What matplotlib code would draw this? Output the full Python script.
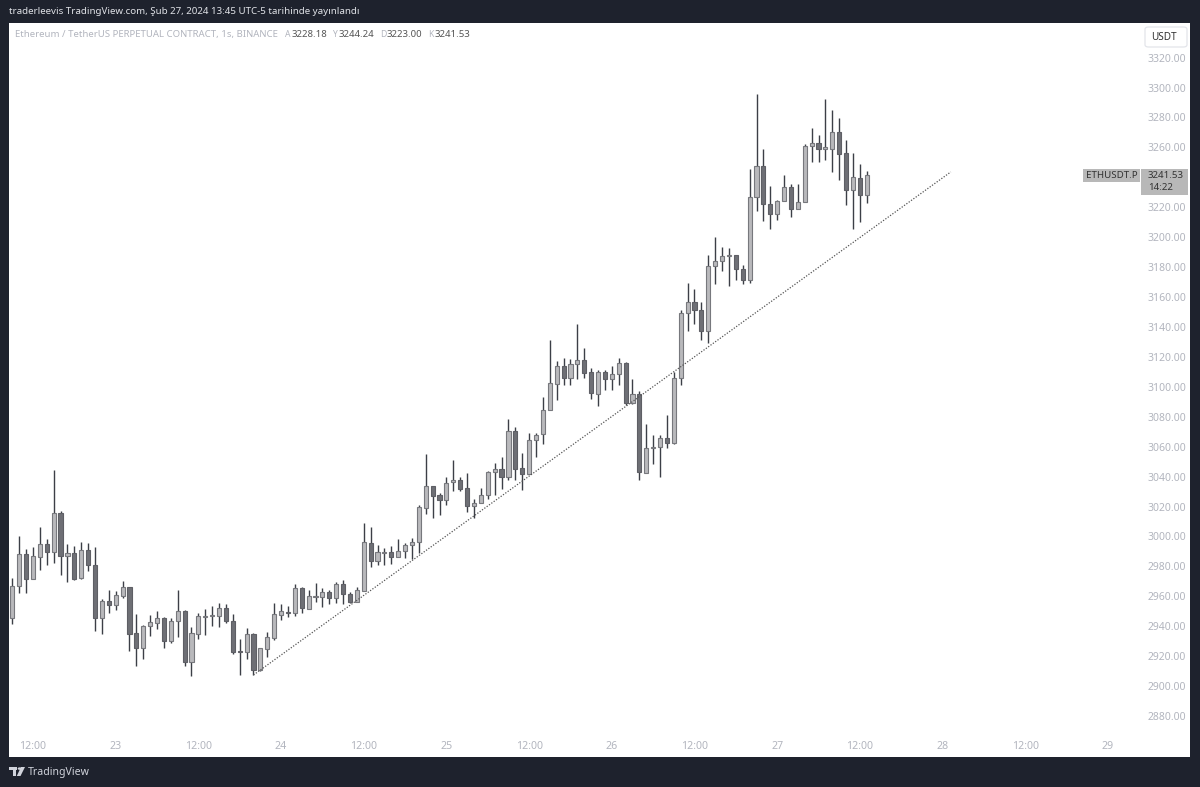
import matplotlib
matplotlib.use("Agg")
import matplotlib.pyplot as plt
from matplotlib.patches import Rectangle, FancyBboxPatch, Circle, Polygon

opens = [2945.8,2967.0,2988.3,2971.9,2986.6,2995.2,2989.9,3015.5,2987.2,2989.0,2972.3,2991.2,2981.0,2945.8,2956.7,2954.5,2960.3,2966.3,2935.3,2925.5,
2940.2,2942.5,2945.4,2930.0,2943.6,2950.0,2916.4,2935.1,2946.5,2946.7,2947.1,2952.3,2943.8,2923.5,2923.1,2934.9,2910.8,2924.9,2932.0,2947.8,
2949.8,2949.1,2965.4,2951.4,2959.8,2959.8,2962.9,2958.9,2968.1,2961.8,2956.3,2963.8,2995.7,2983.7,2989.2,2989.5,2986.6,2990.1,2994.3,2996.1,
3019.3,3033.5,3027.8,3024.4,3036.2,3037.6,3032.4,3020.4,3022.2,3027.8,3042.9,3045.3,3039.5,3070.2,3045.5,3042.0,3064.4,3068.2,3084.3,3102.1,
3113.7,3106.1,3115.2,3117.7,3109.7,3095.4,3109.7,3105.0,3108.5,3116.1,3089.2,3095.0,3042.6,3059.3,3059.5,3065.6,3062.4,3105.7,3149.2,3156.5,
3151.6,3137.3,3181.0,3184.3,3187.7,3187.9,3178.8,3171.6,3226.7,3247.8,3222.2,3215.7,3224.4,3233.6,3219.1,3223.3,3261.2,3262.7,3258.9,3259.2,
3270.1,3256.0,3231.8,3239.8,3228.18]
highs = [2972.1,3000.4,2991.5,2992.8,3006.2,2998.1,3044.5,3017.3,2994.8,2993.7,2996.4,2995.5,2992.8,2958.5,2964.3,2963.6,2970.1,2966.5,2948.5,2940.9,
2947.8,2950.0,2946.0,2945.6,2964.3,2950.9,2939.8,2948.9,2951.8,2953.4,2955.6,2955.2,2948.5,2931.3,2938.9,2935.3,2925.8,2936.0,2955.4,2954.7,
2953.6,2968.1,2966.5,2964.3,2968.7,2965.6,2964.1,2969.4,2970.7,2962.9,2966.5,3009.3,3006.6,2994.1,2992.3,2993.5,2998.1,2995.7,2998.8,3021.1,
3055.1,3033.5,3028.9,3039.8,3051.1,3040.0,3042.2,3024.9,3032.4,3043.8,3048.9,3053.4,3078.3,3073.4,3055.5,3068.9,3069.1,3093.4,3131.3,3117.2,
3119.0,3118.3,3141.9,3125.7,3112.6,3111.0,3111.0,3113.9,3119.5,3116.6,3105.2,3097.2,3074.9,3068.0,3067.6,3080.9,3109.9,3151.4,3169.2,3165.4,
3156.5,3187.9,3200.4,3193.5,3192.8,3188.1,3181.4,3245.6,3295.7,3258.9,3234.0,3225.1,3241.6,3235.3,3235.8,3262.5,3273.2,3268.1,3292.3,3285.0,
3279.4,3265.2,3256.0,3248.9,3244.24]
lows = [2941.3,2962.5,2962.1,2971.9,2977.6,2981.2,2982.5,2974.5,2969.4,2971.0,2971.9,2976.8,2937.1,2935.1,2949.1,2950.9,2958.7,2923.8,2913.5,2918.2,
2933.3,2938.5,2925.5,2928.7,2932.9,2913.5,2906.8,2931.5,2934.2,2940.5,2939.6,2942.5,2921.5,2907.3,2918.2,2907.3,2910.4,2919.7,2930.9,2944.0,
2946.2,2946.9,2949.1,2951.4,2956.3,2953.1,2955.2,2955.8,2954.7,2955.8,2956.3,2963.8,2979.9,2980.8,2980.8,2981.7,2986.6,2985.7,2985.2,2988.8,
3015.1,3012.4,3014.6,3020.9,3030.4,3030.6,3016.4,3012.4,3022.2,3025.3,3027.5,3031.5,3037.7,3037.7,3031.0,3042.0,3052.9,3061.8,3084.3,3091.4,
3101.4,3101.2,3105.4,3106.1,3091.8,3087.4,3098.1,3097.6,3101.0,3087.8,3088.7,3037.7,3042.2,3048.6,3039.5,3059.3,3061.6,3101.3,3137.6,3142.2,
3131.3,3129.3,3168.7,3177.4,3167.7,3171.6,3168.7,3169.4,3217.5,3210.6,3205.5,3211.7,3224.4,3213.5,3219.1,3223.3,3250.0,3250.3,3251.8,3243.4,
3238.5,3221.5,3205.5,3210.2,3223.00]
closes = [2967.0,2988.3,2971.9,2986.8,2995.2,2989.9,3015.5,2987.2,2989.0,2971.9,2991.2,2981.0,2945.8,2956.7,2954.5,2960.7,2966.3,2935.1,2925.5,2940.5,
2942.7,2945.4,2930.0,2943.8,2950.0,2916.4,2935.3,2946.7,2946.9,2947.4,2952.3,2943.4,2922.9,2923.1,2934.7,2910.8,2925.3,2932.7,2948.3,2950.0,
2949.1,2965.4,2952.0,2960.3,2960.3,2962.9,2958.9,2968.5,2961.6,2956.3,2964.1,2996.4,2983.7,2989.5,2989.7,2986.6,2990.1,2994.6,2996.4,3019.5,
3033.5,3027.3,3024.4,3035.8,3037.6,3032.0,3020.4,3022.2,3028.0,3043.1,3045.3,3039.6,3070.2,3045.3,3042.0,3064.7,3067.6,3084.5,3102.3,3113.7,
3106.1,3115.4,3117.7,3109.4,3095.6,3109.9,3105.2,3108.5,3115.9,3089.2,3095.0,3042.8,3058.9,3059.8,3065.8,3062.7,3105.6,3149.4,3156.5,3151.6,
3137.3,3181.0,3184.3,3187.7,3188.1,3178.8,3171.6,3226.7,3247.8,3222.2,3215.7,3224.4,3233.6,3219.1,3223.3,3261.2,3262.7,3258.9,3260.1,3270.1,
3255.8,3231.8,3240.2,3228.2,3241.53]

time_tick_hours = [3,15,27,39,51,63,75,87,99,111,123,135,147,159]
time_tick_labels = ["12:00","23","12:00","24","12:00","25","12:00","26","12:00","27","12:00","28","12:00","29"]
# 3240.00 is hidden behind the last-price label in the reference
price_ticks = [p for p in range(2880, 3321, 20) if p != 3240]
trend_hours = [35, 136.2]
trend_prices = [2907.5, 3243.6]

W, H = 1200, 787
FONT = "Noto Sans"
DARK = "#1e222d"
plt.rcParams["font.family"] = [FONT, "DejaVu Sans"]
fig = plt.figure(figsize=(12, 7.87), dpi=100, facecolor=DARK)

def box(x0, y0, x1, y1):
    return [x0 / W, 1 - y1 / H, (x1 - x0) / W, (y1 - y0) / H]

def t(x, y, s, size=7.5, color="#333333", ha="left", va="center", **kw):
    return fig.text(x / W, 1 - y / H, s, fontsize=size, color=color, ha=ha, va=va, **kw)

def frect(x0, y0, x1, y1, color, z=0):
    fig.add_artist(Rectangle((x0 / W, 1 - y1 / H), (x1 - x0) / W, (y1 - y0) / H,
                             transform=fig.transFigure, fc=color, ec="none", zorder=z))

# white pane
frect(9, 23, 1190, 757, "white", z=-5)

ax = fig.add_axes(box(9, 23, 1141, 733), facecolor="none")
for s in ax.spines.values():
    s.set_visible(False)
ax.set_xlim(-0.483, 163.8)
ax.set_ylim(2868.7, 3343.1)

idx = list(range(len(opens)))
ax.vlines(idx, lows, highs, color="#3c3f47", lw=1.0, zorder=2)
for i, o, c in zip(idx, opens, closes):
    up = c >= o
    ax.bar(i, max(abs(c - o), 0.4), bottom=min(o, c), width=0.6,
           facecolor="#b9b9bc" if up else "#6e6f75",
           edgecolor="#77787d" if up else "#5e5f65", linewidth=0.8, zorder=3)

ax.plot(trend_hours, trend_prices, color="#555555", lw=0.9, ls=(0, (1, 1.3)), zorder=4)

ax.set_xticks(time_tick_hours)
ax.set_xticklabels(time_tick_labels)
ax.yaxis.tick_right()
ax.set_yticks(price_ticks)
ax.set_yticklabels([f"{p:.2f}" for p in price_ticks])
ax.tick_params(axis="x", length=0, pad=5.5, labelsize=7.6, labelcolor="#b2b5be")
ax.tick_params(axis="y", length=0, pad=5, labelsize=7.5, labelcolor="#b2b5be")

# top caption
t(9, 12, "traderleevis TradingView.com, Şub 27, 2024 13:45 UTC-5 tarihinde yayınlandı", size=7.0, color="#e0e2e7")

# legend row
t(15, 34.5, "Ethereum / TetherUS PERPETUAL CONTRACT, 1s, BINANCE", size=6.92, color="#b2b5be")
for xl, xv, l, v in [(285, 291.5, "A", "3228.18"), (332, 338.5, "Y", "3244.24"),
                     (380, 386.5, "D", "3223.00"), (428, 434.5, "K", "3241.53")]:
    t(xl, 34.5, l, size=6.2, color="#b2b5be")
    t(xv, 34.5, v, size=6.9, color="#555555")

# currency button
fig.add_artist(FancyBboxPatch((1145 / W, 1 - 47 / H), 42 / W, 20 / H, transform=fig.transFigure,
                              boxstyle="round,pad=0,rounding_size=0.003", fc="white", ec="#e3e5ea", lw=0.9, zorder=1))
t(1164, 37.5, "USDT", size=7.2, color="#333333", ha="center")

# last-price labels
frect(1083, 169, 1140, 182, "#b8b8b8", z=1)
t(1111.5, 175.5, "ETHUSDT.P", size=7.0, color="#333333", ha="center")
frect(1141, 169, 1188, 195, "#b8b8b8", z=1)
t(1148, 181.5, "3241.53\n14:22", size=7.0, color="#333333", linespacing=1.55)

# footer brand
t(28, 772, "TradingView", size=7.6, color="#d1d4dc")
frect(9, 767, 17, 770, "#d1d4dc", z=1)
frect(12.5, 767, 16, 776, "#d1d4dc", z=1)
fig.add_artist(Circle((19.6 / W, 1 - 768.6 / H), 0.0016, transform=fig.transFigure, fc="#d1d4dc", ec="none", zorder=1))
fig.add_artist(Polygon([(21 / W, 1 - 767 / H), (25 / W, 1 - 767 / H), (20.5 / W, 1 - 776 / H), (16.8 / W, 1 - 776 / H)],
                       closed=True, transform=fig.transFigure, fc="#d1d4dc", ec="none", zorder=1))

fig.savefig("out.png", dpi=100, facecolor=DARK)
